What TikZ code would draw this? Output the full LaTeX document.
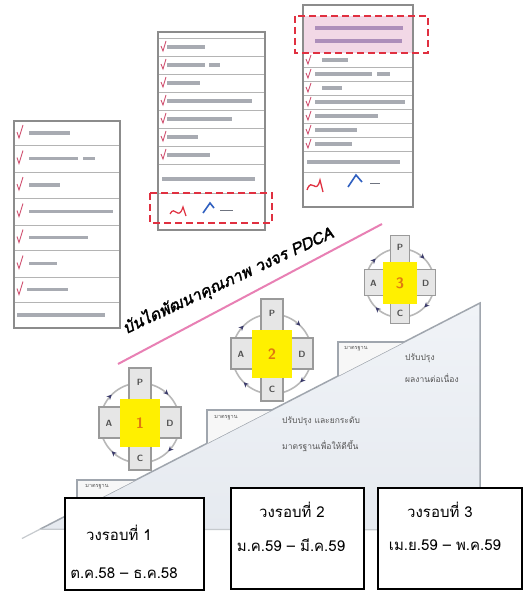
\documentclass[tikz,border=0pt]{standalone}
\usepackage{fontspec}
\newfontfamily\thai[Script=Thai]{Loma}
\newfontfamily\thaibi[Script=Thai,FakeSlant=0.22,FakeBold=2]{Loma}
\usetikzlibrary{arrows.meta,decorations.markings}
\definecolor{formgray}{HTML}{8C8C8C}
\definecolor{rowgray}{HTML}{B4B4B4}
\definecolor{bargray}{HTML}{6F7480}
\definecolor{redd}{HTML}{E03040}
\definecolor{pinkline}{HTML}{E880B4}
\definecolor{pinkfill}{HTML}{F2D8E6}
\definecolor{purplebar}{HTML}{9070A8}
\definecolor{tickc}{HTML}{D05070}
\definecolor{stairtop}{HTML}{F0F3F7}
\definecolor{stairbot}{HTML}{E6EAF0}
\definecolor{stairedge}{HTML}{A0A6AE}
\definecolor{boxfill}{HTML}{E6E6E6}
\definecolor{boxedge}{HTML}{9A9A9A}
\definecolor{lettc}{HTML}{505050}
\definecolor{yel}{HTML}{FFF000}
\definecolor{numc}{HTML}{E07A10}
\definecolor{ringc}{HTML}{B8B8B8}
\definecolor{arrowc}{HTML}{3B3B6B}
\definecolor{descc}{HTML}{555555}
\definecolor{sigblue}{HTML}{3060C0}
\tikzset{
  formbd/.style={draw=formgray,line width=1.8pt},
  rowline/.style={draw=rowgray,line width=0.8pt},
  bar/.style={draw=bargray,line width=3.6pt,opacity=0.6},
  pbar/.style={draw=purplebar,line width=3.6pt,opacity=0.7},
  tickmark/.style={draw=tickc,line width=0.9pt},
  redbox/.style={draw=redd,line width=2.5pt,dash pattern=on 7pt off 4pt},
  pinkarrow/.style={draw=pinkline,line width=2pt},
  stairline/.style={draw=stairedge,line width=1.5pt},
  treadline/.style={draw=stairedge,line width=1.2pt},
  treadtxt/.style={font=\thai\fontsize{5.5}{6}\selectfont,text=descc},
  desc/.style={font=\thai\fontsize{8.5}{10}\selectfont,text=descc,anchor=west,inner sep=0pt},
  pbx/.style={fill=boxfill,draw=boxedge,line width=1.1pt},
  plet/.style={font=\sffamily\bfseries\fontsize{9}{9}\selectfont,text=lettc,inner sep=0pt},
  numtxt/.style={font=\sffamily\bfseries\fontsize{15}{15}\selectfont,text=numc,inner sep=0pt},
  ring/.style={draw=ringc,line width=1.6pt,
    decoration={markings,
      mark=at position 0.125 with {\arrow{Stealth[length=5pt,width=5pt,color=arrowc]}},
      mark=at position 0.375 with {\arrow{Stealth[length=5pt,width=5pt,color=arrowc]}},
      mark=at position 0.625 with {\arrow{Stealth[length=5pt,width=5pt,color=arrowc]}},
      mark=at position 0.875 with {\arrow{Stealth[length=5pt,width=5pt,color=arrowc]}}},
    postaction={decorate}},
  cycbox/.style={draw=black,line width=1.2pt,fill=white},
  btxt/.style={font=\thai\fontsize{15}{16}\selectfont,inner sep=0pt}
}
\newcommand\pdcacyc[5]{%
  \begin{scope}[shift={(#2,#3)},scale=#4]
    \draw[ring] (0,0) circle (40);
    \draw[pbx] (-11,-55) rectangle (11,-20);
    \draw[pbx] (-41,-16) rectangle (-18,15);
    \draw[pbx] (18,-16) rectangle (41,15);
    \draw[pbx] (-11,20) rectangle (11,47);
    \node[plet] (#1P) at (0,-41) {P};
    \node[plet] (#1A) at (-31,0) {A};
    \node[plet] (#1D) at (30,0) {D};
    \node[plet] (#1C) at (0,35) {C};
    \fill[yel] (-20,-24) rectangle (20,24);
    \node[numtxt] (#1N) at (0,0) {#5};
  \end{scope}}
\begin{document}
\begin{tikzpicture}[x=1pt,y=-1pt]
\useasboundingbox (0,0) rectangle (529,591);
\fill[white] (0,0) rectangle (529,591);

% ---------- staircase ----------
\coordinate (T0) at (40,529.2);
\coordinate (T1) at (480,303);
\coordinate (T2) at (480,530);
\shade[top color=stairtop,bottom color=stairbot] (T0) -- (T1) -- (T2) -- cycle;
\draw[stairline] (T0) -- (T1) -- (T2);
\draw[draw=stairedge!60,line width=1.2pt] (T0) -- (T2);
\draw[draw=stairedge!60,line width=1.2pt] (T0) -- (22,538.5);

\fill[white!94!gray] (77,480) -- (135.8,480) -- (77,510.2) -- cycle;
\draw[treadline] (135.8,480) -- (77,480) -- (77,510.2);
\node[treadtxt] (t1) at (97,487) {มาตรฐาน};
\fill[white!94!gray] (207,410) -- (272,410) -- (207,443.4) -- cycle;
\draw[treadline] (272,410) -- (207,410) -- (207,443.4);
\node[treadtxt] (t2) at (226,418) {มาตรฐาน};
\fill[white!94!gray] (338,342) -- (404.3,342) -- (338,376.1) -- cycle;
\draw[treadline] (404.3,342) -- (338,342) -- (338,376.1);
\node[treadtxt] (t3) at (356,349) {มาตรฐาน};

\node[desc] (d1a) at (282,421) {ปรับปรุง และยกระดับ};
\node[desc] (d1b) at (282,446) {มาตรฐานเพื่อให้ดีขึ้น};
\node[desc] (d2a) at (405,358) {ปรับปรุง};
\node[desc] (d2b) at (405,378) {ผลงานต่อเนื่อง};

% ---------- PDCA cycles ----------
\pdcacyc{c1}{140}{423}{1}{1}
\pdcacyc{c2}{272}{354}{1}{2}
\pdcacyc{c3}{400}{283}{0.86}{3}

% ---------- pink line and title ----------
\coordinate (pk0) at (118,364);
\coordinate (pk1) at (382,224);
\draw[pinkarrow] (pk0) -- (pk1);
\node[rotate=25,font=\thaibi\fontsize{16}{16}\selectfont,inner sep=0pt] (title) at (228,281) {บันไดพัฒนาคุณภาพ วงจร PDCA};

% ---------- left form ----------
\fill[white] (14,121) rectangle (120,328);
\foreach \y in {145,172,198,225,250,277,302} \draw[rowline] (14,\y) -- (120,\y);
\foreach \y/\a/\b in {133/29/70,185/29/60,211.5/29/113,237.5/29/88,263.5/29/57,289.5/27/68}
  {\draw[bar] (\a,\y) -- (\b,\y);}
\draw[bar] (29,158.5) -- (78,158.5); \draw[bar] (83,158.5) -- (95,158.5);
\foreach \y in {133,158.5,185,211.5,237.5,263.5,289.5}
  {\draw[tickmark] (17,\y-1) -- (19,\y+5) -- (23,\y-8);}
\draw[bar] (17,315) -- (105,315);
\draw[formbd] (14,121) rectangle (120,328);

% ---------- middle form ----------
\fill[white] (158,32) rectangle (265,230);
\foreach \y in {38,56,74,92,110,128,146,164,193} \draw[rowline] (158,\y) -- (265,\y);
\foreach \y/\a/\b in {47/167/205,83/167/200,101/167/252,119/167/232,137/167/198,155/167/210}
  {\draw[bar] (\a,\y) -- (\b,\y);}
\draw[bar] (167,65) -- (205,65); \draw[bar] (209,65) -- (220,65);
\foreach \y in {47,65,83,101,119,137,155}
  {\draw[tickmark] (161,\y-1) -- (163,\y+4) -- (166,\y-6);}
\draw[bar] (162,179) -- (255,179);
\draw[draw=redd,line width=1.2pt] (170,214) .. controls (175,204) and (178,222) .. (183,207) -- (186,216);
\draw[draw=sigblue,line width=1.6pt] (203,213) -- (210,203) -- (214,208);
\draw[draw=bargray,line width=1pt] (220,210) -- (233,210);
\draw[formbd] (158,32) rectangle (265,230);
\draw[redbox] (150,193) rectangle (272,223);

% ---------- right form ----------
\fill[white] (303,5) rectangle (413,207);
\fill[pinkfill] (303,16) rectangle (413,53);
\draw[pbar] (315,28) -- (403,28);
\draw[pbar] (315,41) -- (402,41);
\foreach \y in {67,81,95,109,123,137,151,172} \draw[rowline] (303,\y) -- (413,\y);
\foreach \y/\a/\b in {60/322/348,88/322/342,102/315/405,116/315/378,130/315/357,144/315/352}
  {\draw[bar] (\a,\y) -- (\b,\y);}
\draw[bar] (315,74) -- (372,74); \draw[bar] (377,74) -- (390,74);
\foreach \y in {60,74,88,102,116,130,144}
  {\draw[tickmark] (306,\y-1) -- (308,\y+4) -- (311,\y-5);}
\draw[bar] (307,162) -- (400,162);
\draw[draw=redd,line width=1.3pt] (307,190) .. controls (312,176) and (316,196) .. (320,180) -- (323,192);
\draw[draw=sigblue,line width=1.6pt] (348,187) -- (356,175) -- (362,182);
\draw[draw=bargray,line width=1pt] (370,183) -- (380,183);
\draw[formbd] (303,5) rectangle (413,207);
\draw[redbox] (295,16) rectangle (428,53);

% ---------- bottom boxes ----------
\node[cycbox,minimum width=139pt,minimum height=92pt,inner sep=0pt] (b1) at (134.5,544) {};
\node[cycbox,minimum width=133pt,minimum height=101pt,inner sep=0pt] (b2) at (297.5,538.5) {};
\node[cycbox,minimum width=144pt,minimum height=101pt,inner sep=0pt] (b3) at (450,538.5) {};
\node[btxt] (b1a) at (119,533) {วงรอบที่ 1};
\node[btxt] (b1b) at (124,573) {ต.ค.58 – ธ.ค.58};
\node[btxt] (b2a) at (292,510) {วงรอบที่ 2};
\node[btxt] (b2b) at (291,545) {ม.ค.59 – มี.ค.59};
\node[btxt] (b3a) at (440,510) {วงรอบที่ 3};
\node[btxt] (b3b) at (445,545) {เม.ย.59 – พ.ค.59};
\end{tikzpicture}
\end{document}
